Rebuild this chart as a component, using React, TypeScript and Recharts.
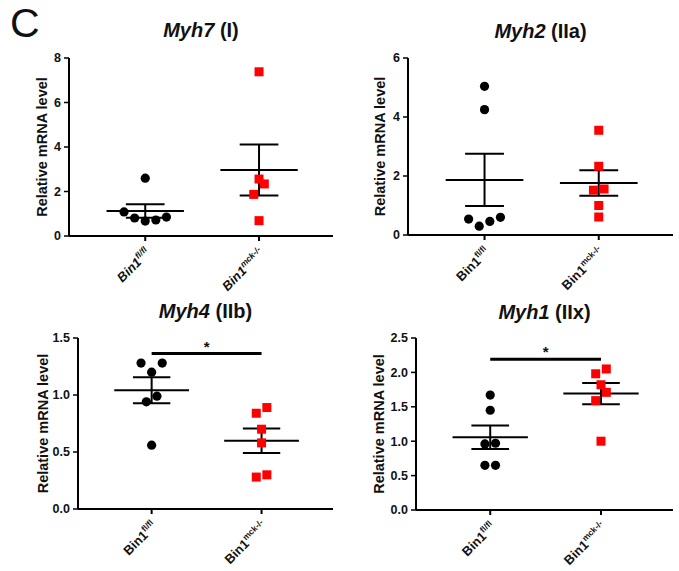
import { ComposedChart, Scatter, XAxis, YAxis, ReferenceLine } from 'recharts'

const FONT = '"Liberation Sans", Arial, sans-serif'
const INK = '#111'
const RED = '#ff0000'

// x positions of the two genotypes and their tick labels
const GROUP_TICKS = [1, 2]
const GROUP_SUPERSCRIPTS = ['fl/fl', 'mck-/-']
const X_DOMAIN: [number, number] = [0.33, 2.65]

// Myh7 (I)
const MYH7_FLOX = [1.08, 0.81, 0.67, 0.72, 0.85, 2.6]
const MYH7_MCK = [7.38, 2.56, 2.34, 1.87, 0.69]
const MYH7_TICKS = [0, 2, 4, 6, 8]

// Myh2 (IIa)
const MYH2_FLOX = [5.04, 4.25, 0.54, 0.3, 0.46, 0.6]
const MYH2_MCK = [3.55, 2.33, 1.52, 1.56, 1.0, 0.61]
const MYH2_TICKS = [0, 2, 4, 6]

// Myh4 (IIb)
const MYH4_FLOX = [1.28, 1.28, 1.2, 0.99, 0.94, 0.56]
const MYH4_MCK = [0.89, 0.84, 0.7, 0.58, 0.28, 0.3]
const MYH4_TICKS = [0, 0.5, 1.0, 1.5]
const MYH4_SIG = 1.363

// Myh1 (IIx)
const MYH1_FLOX = [1.67, 1.45, 0.97, 0.96, 0.65, 0.65]
const MYH1_MCK = [2.05, 1.98, 1.82, 1.71, 1.59, 1.0]
const MYH1_TICKS = [0, 0.5, 1.0, 1.5, 2.0, 2.5]
const MYH1_SIG = 2.19

const DOT_STEP_PX = 10.6 // horizontal spacing of dots sharing a row
const ROW_PX = 10.8 // dots closer than this vertically share a row
const MEAN_HALF = 0.34
const CAP_HALF = 0.17

const mean = (v: number[]) => v.reduce((a, b) => a + b, 0) / v.length
const sem = (v: number[]) => {
  const m = mean(v)
  return Math.sqrt(v.reduce((a, b) => a + (b - m) ** 2, 0) / (v.length - 1) / v.length)
}

// rough GraphPad-style scatter: nearby values are spread out in a row
function swarm(values: number[], group: number, yPx: number, xStep: number) {
  const order = values.map((_, i) => i).sort((a, b) => values[a] - values[b])
  const offsets = new Array(values.length).fill(0)
  let row: number[] = []
  const flush = () => {
    const n = row.length
    row.forEach((idx, k) => {
      let slot: number
      if (n % 2 === 1) slot = k === 0 ? 0 : k % 2 === 1 ? (k + 1) / 2 : -k / 2
      else slot = (k % 2 === 0 ? -1 : 1) * (Math.floor(k / 2) + 0.5)
      offsets[idx] = slot * xStep
    })
    row = []
  }
  order.forEach((idx) => {
    if (row.length && (values[idx] - values[row[0]]) * yPx > ROW_PX) flush()
    row.push(idx)
  })
  flush()
  return values.map((y, i) => ({ x: group + offsets[i], y }))
}

const Dot = (p: any) => <circle cx={p.cx} cy={p.cy} r={4.6} fill="#000" />
const Square = (p: any) => (
  <rect x={p.cx - 4.5} y={p.cy - 4.5} width={9} height={9} fill={RED} />
)

function GroupTick({ x, y, payload, italic }: any) {
  const sup = GROUP_SUPERSCRIPTS[GROUP_TICKS.indexOf(payload.value)]
  return (
    <g transform={`translate(${x + 6},${y + 11}) rotate(-45)`}>
      <text
        textAnchor="end"
        fontFamily={FONT}
        fontWeight="bold"
        fontStyle={italic ? 'italic' : 'normal'}
        fontSize={13}
        fill={INK}
      >
        <tspan>Bin1</tspan>
        <tspan dy={-5.5} fontSize={8.5}>
          {sup}
        </tspan>
      </text>
    </g>
  )
}

interface PanelProps {
  gene: string
  fibre: string
  flox: number[]
  mck: number[]
  ticks: number[]
  decimals: number
  left: number
  top: number
  width: number
  height: number
  margin: { top: number; right: number; bottom: number }
  yWidth: number
  xHeight: number
  labelOffset: number
  titleBaseline: number
  italicTicks?: boolean
  sig?: number
}

function Panel(p: PanelProps) {
  const yMax = p.ticks[p.ticks.length - 1]
  const plotW = p.width - p.yWidth - p.margin.right
  const plotH = p.height - p.margin.top - p.margin.bottom - p.xHeight
  const yPx = plotH / yMax
  const xStep = DOT_STEP_PX / (plotW / (X_DOMAIN[1] - X_DOMAIN[0]))
  const groups = [p.flox, p.mck]

  return (
    <div style={{ position: 'absolute', left: p.left, top: p.top, width: p.width, height: p.height }}>
      <div
        style={{
          position: 'absolute',
          left: p.yWidth,
          width: plotW,
          top: p.titleBaseline - 16,
          lineHeight: '20px',
          fontSize: 20,
          fontWeight: 'bold',
          fontFamily: FONT,
          color: INK,
          textAlign: 'center',
          whiteSpace: 'nowrap',
        }}
      >
        <i>{p.gene}</i> {p.fibre}
      </div>
      <ComposedChart
        width={p.width}
        height={p.height}
        margin={{ top: p.margin.top, right: p.margin.right, bottom: p.margin.bottom, left: 0 }}
      >
        <XAxis
          type="number"
          dataKey="x"
          domain={X_DOMAIN}
          ticks={GROUP_TICKS}
          allowDataOverflow
          height={p.xHeight}
          axisLine={{ stroke: '#000', strokeWidth: 2 }}
          tickLine={{ stroke: '#000', strokeWidth: 2 }}
          tickSize={5}
          tickMargin={2}
          interval={0}
          tick={<GroupTick italic={p.italicTicks} />}
        />
        <YAxis
          type="number"
          dataKey="y"
          domain={[0, yMax]}
          ticks={p.ticks}
          width={p.yWidth}
          interval={0}
          tickFormatter={(v) => Number(v).toFixed(p.decimals)}
          axisLine={{ stroke: '#000', strokeWidth: 2 }}
          tickLine={{ stroke: '#000', strokeWidth: 1.5 }}
          tickSize={5}
          tickMargin={3}
          tick={{ fontSize: 12.5, fontWeight: 'bold', fill: INK, fontFamily: FONT }}
          label={{
            value: 'Relative mRNA level',
            angle: -90,
            position: 'insideLeft',
            offset: p.labelOffset,
            style: { textAnchor: 'middle', fontSize: 14.5, fontWeight: 'bold', fill: INK, fontFamily: FONT },
          }}
        />
        <Scatter
          data={swarm(p.flox, GROUP_TICKS[0], yPx, xStep)}
          shape={Dot}
          isAnimationActive={false}
        />
        <Scatter
          data={swarm(p.mck, GROUP_TICKS[1], yPx, xStep)}
          shape={Square}
          isAnimationActive={false}
        />
        {groups.map((v, i) => {
          const g = GROUP_TICKS[i]
          const m = mean(v)
          const s = sem(v)
          return [
            <ReferenceLine
              key={`m${i}`}
              segment={[{ x: g - MEAN_HALF, y: m }, { x: g + MEAN_HALF, y: m }]}
              stroke="#000"
              strokeWidth={2}
              ifOverflow="visible"
            />,
            <ReferenceLine
              key={`v${i}`}
              segment={[{ x: g, y: m - s }, { x: g, y: m + s }]}
              stroke="#000"
              strokeWidth={2}
              ifOverflow="visible"
            />,
            <ReferenceLine
              key={`u${i}`}
              segment={[{ x: g - CAP_HALF, y: m + s }, { x: g + CAP_HALF, y: m + s }]}
              stroke="#000"
              strokeWidth={2}
              ifOverflow="visible"
            />,
            <ReferenceLine
              key={`l${i}`}
              segment={[{ x: g - CAP_HALF, y: m - s }, { x: g + CAP_HALF, y: m - s }]}
              stroke="#000"
              strokeWidth={2}
              ifOverflow="visible"
            />,
          ]
        })}
        {p.sig !== undefined && (
          <ReferenceLine
            segment={[{ x: GROUP_TICKS[0], y: p.sig }, { x: GROUP_TICKS[1], y: p.sig }]}
            stroke="#000"
            strokeWidth={3}
            ifOverflow="visible"
            label={{
              value: '*',
              position: 'top',
              offset: 2,
              style: { fontSize: 15, fontWeight: 'bold', fill: INK, fontFamily: FONT },
            }}
          />
        )}
      </ComposedChart>
    </div>
  )
}

export default function App() {
  return (
    <div
      style={{
        position: 'absolute',
        left: 0,
        top: 0,
        width: 679,
        height: 571,
        background: '#fff',
        overflow: 'hidden',
      }}
    >
      <div
        style={{
          position: 'absolute',
          left: 10,
          top: 0,
          fontSize: 41,
          lineHeight: 'normal',
          fontFamily: FONT,
          color: INK,
        }}
      >
        C
      </div>
      <Panel
        gene="Myh7"
        fibre="(I)"
        flox={MYH7_FLOX}
        mck={MYH7_MCK}
        ticks={MYH7_TICKS}
        decimals={0}
        left={0}
        top={0}
        width={340}
        height={300}
        margin={{ top: 58, right: 7, bottom: 0 }}
        yWidth={69}
        xHeight={64}
        labelOffset={42}
        titleBaseline={36}
        italicTicks
      />
      <Panel
        gene="Myh2"
        fibre="(IIa)"
        flox={MYH2_FLOX}
        mck={MYH2_MCK}
        ticks={MYH2_TICKS}
        decimals={0}
        left={340}
        top={0}
        width={339}
        height={300}
        margin={{ top: 58, right: 6, bottom: 0 }}
        yWidth={68}
        xHeight={65}
        labelOffset={39.5}
        titleBaseline={37}
      />
      <Panel
        gene="Myh4"
        fibre="(IIb)"
        flox={MYH4_FLOX}
        mck={MYH4_MCK}
        ticks={MYH4_TICKS}
        decimals={1}
        left={0}
        top={290}
        width={340}
        height={281}
        margin={{ top: 48, right: 7, bottom: 0 }}
        yWidth={78}
        xHeight={62}
        labelOffset={42.5}
        titleBaseline={26.5}
        sig={MYH4_SIG}
      />
      <Panel
        gene="Myh1"
        fibre="(IIx)"
        flox={MYH1_FLOX}
        mck={MYH1_MCK}
        ticks={MYH1_TICKS}
        decimals={1}
        left={340}
        top={290}
        width={339}
        height={281}
        margin={{ top: 48, right: 6, bottom: 0 }}
        yWidth={76}
        xHeight={61}
        labelOffset={39}
        titleBaseline={28}
        sig={MYH1_SIG}
      />
    </div>
  )
}
